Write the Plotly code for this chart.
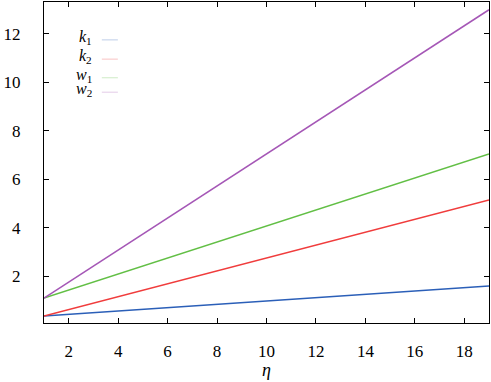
import plotly.graph_objects as go

eta = [1, 19]
k1 = [0.35, 1.59]
k2 = [0.35, 5.14]
w1 = [1.09, 7.04]
w2 = [1.09, 13.0]

series = [
    ("<i>k</i><sub>1</sub>", k1, "#2b5fb8"),
    ("<i>k</i><sub>2</sub>", k2, "#f03c3c"),
    ("<i>w</i><sub>1</sub>", w1, "#62bf45"),
    ("<i>w</i><sub>2</sub>", w2, "#a557b6"),
]

xticks = [2, 4, 6, 8, 10, 12, 14, 16, 18]
yticks = [2, 4, 6, 8, 10, 12]

SERIF = "Liberation Serif"

fig = go.Figure()
for name, ys, col in series:
    fig.add_trace(go.Scatter(x=eta, y=ys, mode="lines", name=name,
                             line=dict(color=col, width=1.5), showlegend=False))

# manual legend (text left, faint sample right)
leg_y = [0.89, 0.83, 0.772, 0.727]
for (name, ys, col), yy in zip(series, leg_y):
    fig.add_annotation(x=0.112, y=yy, xref="paper", yref="paper", text=name,
                       showarrow=False, xanchor="right", yanchor="middle",
                       font=dict(family=SERIF, size=16, color="black"))
    fig.add_shape(type="line", xref="paper", yref="paper",
                  x0=0.13, x1=0.166, y0=yy - 0.008, y1=yy - 0.008,
                  line=dict(color=col, width=1), opacity=0.3)

axis_common = dict(showline=True, linecolor="black", linewidth=1.2, mirror="ticks",
                   ticks="inside", ticklen=5, tickcolor="black", showgrid=False,
                   zeroline=False,
                   tickfont=dict(family=SERIF, size=17, color="black"))

fig.update_xaxes(range=[1, 19], tickvals=xticks, ticktext=[str(v) for v in xticks],
                 ticklabelstandoff=12,
                 title=dict(text="<i>η</i>", font=dict(family=SERIF, size=18, color="black"),
                            standoff=2),
                 **axis_common)
fig.update_yaxes(range=[0.06, 13.32], tickvals=yticks, ticktext=[str(v) for v in yticks],
                 ticklabelstandoff=19, **axis_common)

fig.update_layout(template="none", font=dict(family=SERIF, size=16, color="black"),
                  width=491, height=382, margin=dict(l=44, r=2, t=2, b=59),
                  plot_bgcolor="white", paper_bgcolor="white")

fig.write_html("out.html", config={"displayModeBar": False},
               post_script="document.body.style.margin='0';document.body.style.overflow='hidden';")
